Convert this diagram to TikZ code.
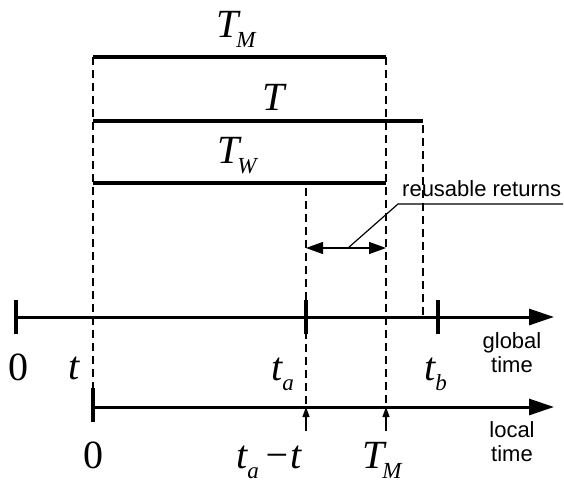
\documentclass[tikz,border=0pt]{standalone}
\usepackage{fontspec}
\setmainfont{Liberation Serif}
\newfontfamily\labsans{Liberation Sans}
\usetikzlibrary{arrows.meta}
\newcommand\lsub[1]{\raisebox{-10pt}{\fontsize{23}{23}\selectfont #1}}
\tikzset{
  bar/.style={line width=4pt},
  axisline/.style={line width=3pt,-{Triangle[length=25pt,width=16pt]}},
  tickmark/.style={line width=4pt},
  guide/.style={line width=1.2pt,dash pattern=on 8pt off 5pt},
  mlab/.style={inner sep=0pt,anchor=base west,font=\fontsize{40}{40}\selectfont\itshape},
  slab/.style={inner sep=0pt,anchor=base,font=\labsans\fontsize{22}{22}\selectfont},
  leader/.style={line width=1.2pt},
  span/.style={line width=1.3pt,{Triangle[length=17pt,width=12pt]}-{Triangle[length=17pt,width=12pt]}},
  marker/.style={line width=1.3pt,-{Triangle[length=10pt,width=7pt]}}
}
\begin{document}
\begin{tikzpicture}[x=1pt,y=-1pt]
\useasboundingbox (0,0) rectangle (564,479);
% interval bars
\coordinate (tm1) at (93,57);  \coordinate (tm2) at (386,57);
\coordinate (t1) at (93,121);  \coordinate (t2) at (423,121);
\coordinate (tw1) at (93,183); \coordinate (tw2) at (386,183);
\draw[bar] (tm1) -- (tm2);
\draw[bar] (t1) -- (t2);
\draw[bar] (tw1) -- (tw2);
% axes
\coordinate (g0) at (16,317); \coordinate (gend) at (554,317);
\coordinate (l0) at (93,407); \coordinate (lend) at (554,407);
\draw[axisline] (g0) -- (gend);
\draw[axisline] (l0) -- (lend);
% ticks
\draw[tickmark] (16,300) -- (16,334);
\draw[tickmark] (306,300) -- (306,334);
\draw[tickmark] (438,300) -- (438,334);
\draw[tickmark] (93,388) -- (93,422);
% guides
\coordinate (ta1) at (306,188); \coordinate (ta2) at (306,407);
\coordinate (tb1) at (423,125); \coordinate (tb2) at (423,316);
\coordinate (z2) at (93,388);
\coordinate (m2) at (386,407);
\draw[guide] (tm1) -- (z2);
\draw[guide] (tm2) -- (m2);
\draw[guide] (tb1) -- (tb2);
\draw[guide] (ta1) -- (ta2);
% reusable returns span
\coordinate (s1) at (306,248); \coordinate (s2) at (386,248);
\draw[span] (s1) -- (s2);
\coordinate (lk1) at (348,248); \coordinate (lk2) at (398,204); \coordinate (lk3) at (563,204);
\draw[leader] (lk1) -- (lk2) -- (lk3);
\node[slab,anchor=base west] (reu) at (402,196) {reusable returns};
% markers
\coordinate (ma1) at (306,431); \coordinate (mb1) at (386,431);
\draw[marker] (ma1) -- (ta2);
\draw[marker] (mb1) -- (m2);
% labels
\node[mlab] (lTM) at (216,37) {T\kern-2pt\lsub{M}};
\node[mlab] (lT) at (262,110) {T};
\node[mlab] (lTW) at (217,163) {T\kern-2pt\lsub{W}};
\node[mlab,font=\fontsize{40}{40}\selectfont] (g0l) at (8,380) {0};
\node[mlab] (gt) at (68,379) {t};
\node[mlab] (gta) at (271,380) {t\lsub{a}};
\node[mlab] (gtb) at (424,380) {t\lsub{b}};
\node[mlab,font=\fontsize{40}{40}\selectfont] (l0l) at (83,468) {0};
\node[mlab] (lta) at (236,468) {t\lsub{a}\kern5pt−t};
\node[mlab] (lTMb) at (362,468) {T\kern-2pt\lsub{M}};
\node[slab] (gl1) at (512,348) {global};
\node[slab] (gl2) at (512,372) {time};
\node[slab] (ll1) at (512,437) {local};
\node[slab] (ll2) at (512,461) {time};
\end{tikzpicture}
\end{document}
